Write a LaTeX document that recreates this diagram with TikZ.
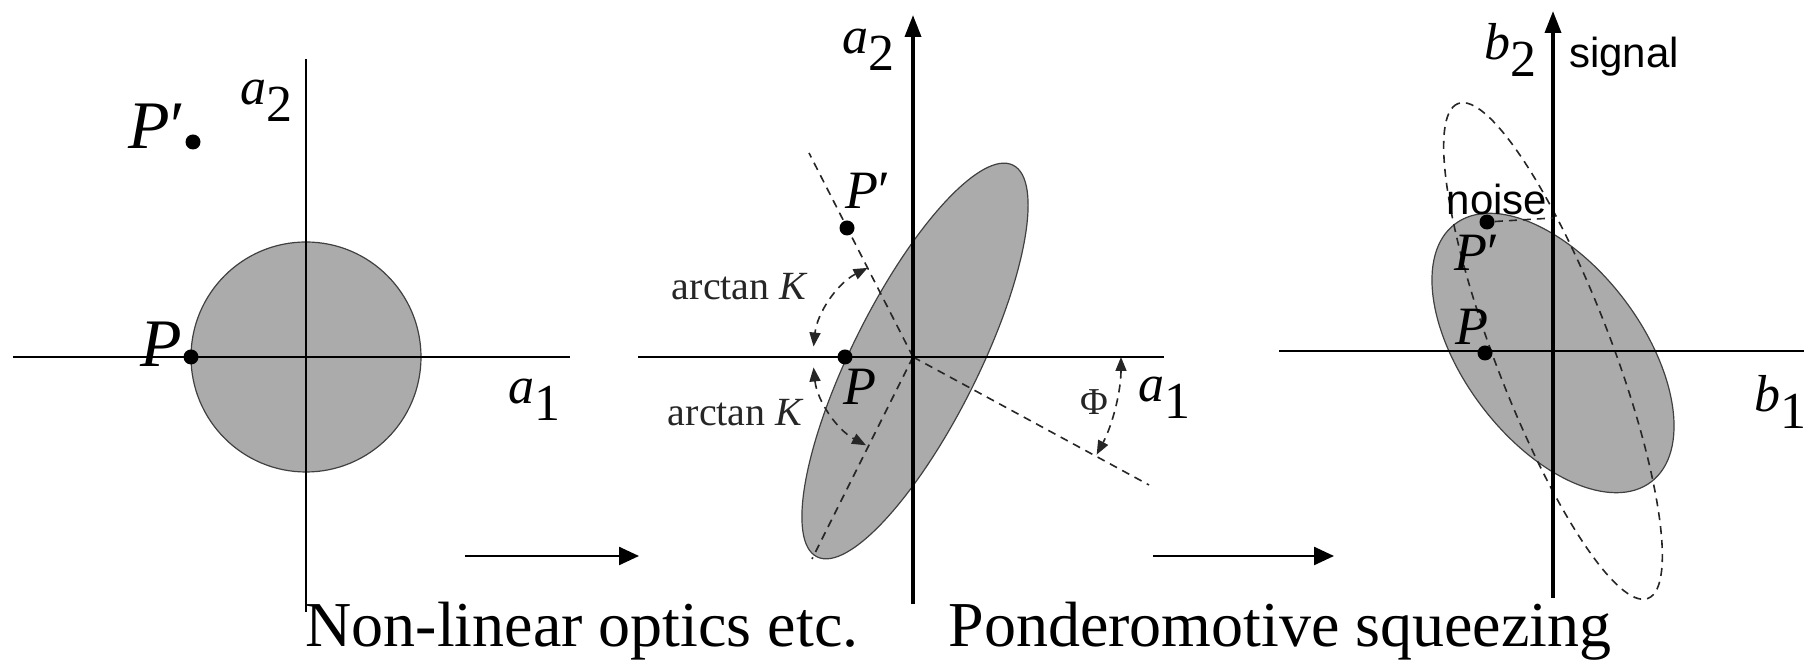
\documentclass[tikz,border=0pt]{standalone}
\usepackage{fontspec}
\setmainfont{Liberation Serif}
\newfontfamily\sansf{Liberation Sans}
\usetikzlibrary{arrows.meta}
\newcommand{\axl}[2]{\textit{#1}\raisebox{-0.33em}{#2}}
\tikzset{
  axisline/.style={line width=1.4pt},
  axisarrow/.style={line width=1.8pt,-{Triangle[length=11pt,width=8pt]}},
  blob/.style={fill=black!33, draw=black!75, line width=0.6pt},
  dashline/.style={dash pattern=on 4pt off 3pt, line width=0.8pt, draw=black!85},
  angarc/.style={dashline,{Triangle[length=7pt,width=5.5pt]}-{Triangle[length=7pt,width=5.5pt]}},
  dot/.style={circle, fill=black, inner sep=0pt, minimum size=7.5pt},
  flow/.style={line width=1.2pt,-{Triangle[length=10pt,width=9pt]}},
  axlab/.style={font=\fontsize{26}{30}\selectfont, inner sep=0pt},
  plab/.style={font=\fontsize{27}{30}\selectfont, inner sep=0pt},
  smlab/.style={font=\fontsize{20}{24}\selectfont, inner sep=0pt, text=black!85},
  sanslab/.style={font=\sansf\fontsize{21}{24}\selectfont, inner sep=0pt},
  caption/.style={font=\fontsize{32}{36}\selectfont, anchor=base, inner sep=0pt}
}
\begin{document}
\begin{tikzpicture}[x=0.5pt,y=0.5pt]
\useasboundingbox (0,0) rectangle (1812,663);
% ---------- panel 1 ----------
\begin{scope}[shift={(306,306)}]
  \draw[blob] (0,0) circle[radius=115];
  \coordinate (h1l) at (-293,0); \coordinate (h1r) at (264,0);
  \coordinate (v1b) at (0,-255); \coordinate (v1t) at (0,298);
  \draw[axisline] (h1l) -- (h1r);
  \draw[axisline] (v1b) -- (v1t);
  \node[dot] (P1) at (-115,0) {};
  \node[dot] (Pp1) at (-113,215) {};
  \node[axlab] (a11) at (228,-43) {\axl{a}{1}};
  \node[axlab] (a12) at (-40,256) {\axl{a}{2}};
  \node[font=\fontsize{34}{36}\selectfont, inner sep=0pt] (lP1) at (-145,13) {\textit{P}};
  \node[font=\fontsize{34}{36}\selectfont, inner sep=0pt] (lPp1) at (-149,231) {\textit{P}′};
\end{scope}
% ---------- panel 2 ----------
\begin{scope}[shift={(913,306)}]
  \draw[blob, rotate around={63.4:(2,-4)}] (2,-4) ellipse[x radius=219, y radius=63];
  \coordinate (O2) at (0,0);
  \coordinate (e2a) at (-104,204);
  \coordinate (e2b) at (-101,-202);
  \coordinate (e2c) at (236,-128);
  \draw[dashline] (O2) -- (e2a);
  \draw[dashline] (O2) -- (e2b);
  \draw[dashline] (O2) -- (e2c);
  \draw[angarc] (117:100) arc[start angle=117, end angle=174, radius=100];
  \draw[angarc] (186:100) arc[start angle=186, end angle=242, radius=100];
  \draw[angarc] (0:208) arc[start angle=0, end angle=-28, radius=208];
  \coordinate (h2l) at (-275,0); \coordinate (h2r) at (251,0);
  \coordinate (v2b) at (0,-247); \coordinate (v2t) at (0,342);
  \draw[axisline] (h2l) -- (h2r);
  \draw[axisarrow] (v2b) -- (v2t);
  \node[dot] (P2) at (-68,0) {};
  \node[dot] (Pp2) at (-66,129) {};
  \node[axlab] (a21) at (251,-41) {\axl{a}{1}};
  \node[axlab] (a22) at (-45,307) {\axl{a}{2}};
  \node[plab] (lP2) at (-53,-30) {\textit{P}};
  \node[plab] (lPp2) at (-45,166) {\textit{P}′};
  \node[smlab] (ak1) at (-173,70) {arctan \textit{K}};
  \node[smlab] (ak2) at (-177,-56) {arctan \textit{K}};
  \node[font=\fontsize{19}{22}\selectfont, inner sep=0pt, text=black!85] (phi) at (181,-45) {Φ};
\end{scope}
% ---------- panel 3 ----------
\begin{scope}[shift={(1553,312)}]
  \draw[blob, rotate around={-52.7:(0,-2)}] (0,-2) ellipse[x radius=162, y radius=89];
  \draw[dashline, rotate around={111:(0,0)}] (0,0) ellipse[x radius=265, y radius=58];
  \coordinate (h3l) at (-274,0); \coordinate (h3r) at (251,0);
  \coordinate (v3b) at (0,-247); \coordinate (v3t) at (0,340);
  \coordinate (n3) at (0,133);
  \draw[axisline] (h3l) -- (h3r);
  \draw[axisarrow] (v3b) -- (v3t);
  \node[dot] (P3) at (-68,-2) {};
  \node[dot] (Pp3) at (-66,129) {};
  \draw[dashline] (Pp3) -- (n3);
  \node[axlab] (b31) at (227,-51) {\axl{b}{1}};
  \node[axlab] (b32) at (-43,301) {\axl{b}{2}};
  \node[sanslab] (sig) at (71,294) {signal};
  \node[sanslab] (noise) at (-56,152) {noise};
  \node[plab] (lP3) at (-81,24) {\textit{P}};
  \node[plab] (lPp3) at (-76,98) {\textit{P}′};
\end{scope}
% ---------- arrows and captions ----------
\coordinate (f1a) at (465,107); \coordinate (f1b) at (639,107);
\coordinate (f2a) at (1153,107); \coordinate (f2b) at (1334,107);
\draw[flow] (f1a) -- (f1b);
\draw[flow] (f2a) -- (f2b);
\node[caption] (cap1) at (582,16) {Non-linear optics etc.};
\node[caption] (cap2) at (1280,16) {Ponderomotive squeezing};
\end{tikzpicture}
\end{document}
